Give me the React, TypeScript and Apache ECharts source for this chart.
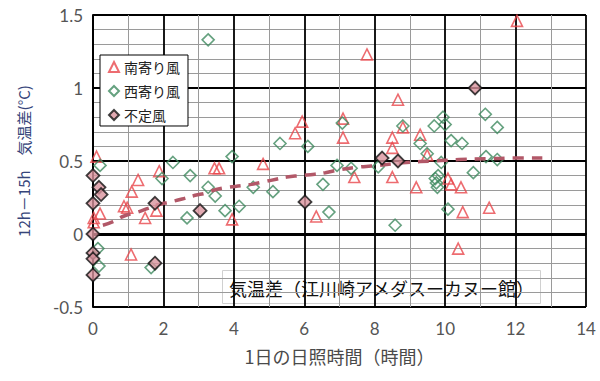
import React, { useEffect, useRef } from "react";
import * as echarts from "echarts";

const southWind: number[][] = [
  [0.1, 0.53], [0.2, 0.14], [0.02, 0.11], [0.02, 0.08],
  [0.88, 0.19], [0.97, 0.18], [1.1, 0.29], [1.28, 0.37], [1.48, 0.11], [1.08, -0.14],
  [1.88, 0.43], [1.8, 0.16], [3.45, 0.45], [3.58, 0.45], [3.95, 0.1], [4.83, 0.48],
  [5.74, 0.69], [5.94, 0.77], [6.34, 0.12], [7.1, 0.79], [7.1, 0.66], [7.42, 0.39],
  [7.78, 1.23], [8.5, 0.66], [8.5, 0.59], [8.5, 0.39], [8.66, 0.92], [8.8, 0.73],
  [9.18, 0.32], [9.29, 0.68], [9.49, 0.54], [10.08, 0.38], [10.17, 0.34], [10.45, 0.32],
  [10.5, 0.15], [10.37, -0.1], [11.25, 0.18], [12.04, 1.46],
];

const westWind: number[][] = [
  [0.2, 0.47], [0.14, -0.1], [0.17, -0.22], [1.65, -0.23], [1.96, 0.38], [2.27, 0.49],
  [2.67, 0.11], [2.76, 0.4], [3.27, 0.32], [3.27, 1.33], [3.47, 0.26], [3.75, 0.16],
  [3.95, 0.53], [4.15, 0.19], [4.55, 0.32], [5.11, 0.29], [5.31, 0.62], [6.1, 0.6],
  [6.53, 0.34], [6.7, 0.15], [6.93, 0.47], [7.08, 0.76], [7.33, 0.45], [8.1, 0.46],
  [8.58, 0.06], [8.8, 0.74], [9.29, 0.62], [9.49, 0.55], [9.69, 0.74], [9.72, 0.38],
  [9.8, 0.4], [9.75, 0.35], [9.78, 0.32], [9.89, 0.49], [9.94, 0.8], [10.0, 0.75],
  [10.08, 0.17], [10.17, 0.64], [10.48, 0.62], [10.8, 0.42], [11.14, 0.82], [11.48, 0.73],
  [11.16, 0.53], [11.48, 0.51],
];

const variableWind: number[][] = [
  [0, 0.4], [0.17, 0.32], [0.23, 0.27], [0, 0.21], [0, 0.0], [0, -0.13], [0, -0.17],
  [0, -0.28], [1.76, 0.21], [1.76, -0.2], [3.04, 0.16], [6.02, 0.22], [8.21, 0.52],
  [8.66, 0.5], [10.85, 1.0],
];

const trendLine: number[][] = [
  [0.28, 0.06], [0.57, 0.085], [0.9, 0.125], [1.2, 0.145], [1.56, 0.175], [1.85, 0.2],
  [2.2, 0.22], [2.53, 0.24], [2.9, 0.265], [3.2, 0.28], [3.5, 0.305], [3.84, 0.32],
  [4.2, 0.33], [4.5, 0.34], [4.9, 0.36], [5.2, 0.375], [5.5, 0.39], [5.9, 0.4],
  [6.3, 0.41], [6.6, 0.42], [7.0, 0.44], [7.6, 0.46], [7.9, 0.465], [8.9, 0.49],
  [9.7, 0.5], [10.4, 0.51], [11.2, 0.515], [12.0, 0.52], [12.76, 0.52],
];

const seriesNames = ["南寄り風", "西寄り風", "不定風"];
const xTitle = "1日の日照時間（時間）";
const yTitle = "12h－15h　気温差(°C)";
const boxTitle = "気温差（江川崎アメダスーカヌー館）";

export default function App() {
  const ref = useRef<HTMLDivElement>(null);
  useEffect(() => {
    const chart = echarts.init(ref.current!, null, { renderer: "svg" });
    const latin = "Lato, 'Noto Sans CJK JP', sans-serif";
    const cjk = "'Noto Sans CJK JP', sans-serif";
    chart.setOption({
      animation: false,
      backgroundColor: "#ffffff",
      grid: { left: 93, right: 14, top: 15, bottom: 74, containLabel: false },
      legend: {
        data: seriesNames,
        orient: "vertical",
        left: 100,
        top: 55,
        backgroundColor: "#ffffff",
        borderColor: "#000000",
        borderWidth: 1,
        borderRadius: 0,
        padding: [5, 8, 4, 8],
        itemWidth: 10,
        itemHeight: 10,
        itemGap: 10,
        textStyle: { fontFamily: cjk, fontSize: 14, color: "#222222" },
      },
      xAxis: {
        type: "value",
        min: 0,
        max: 14,
        interval: 2,
        name: xTitle,
        nameLocation: "middle",
        nameGap: 40,
        nameTextStyle: { fontFamily: cjk, fontSize: 18, color: "#4a4a4a" },
        axisLine: { show: true, lineStyle: { color: "#000", width: 2 } },
        axisTick: { show: false },
        axisLabel: { fontFamily: latin, fontSize: 17, color: "#555555", margin: 13 },
        splitLine: { show: true, lineStyle: { color: "#000", width: 1.8 } },
        minorTick: { show: false, splitNumber: 2 },
        minorSplitLine: { show: true, lineStyle: { color: "#9a9a9a", width: 1 } },
      },
      yAxis: {
        type: "value",
        min: -0.5,
        max: 1.5,
        interval: 0.5,
        name: yTitle,
        nameLocation: "middle",
        nameGap: 62,
        nameRotate: 90,
        nameTextStyle: { fontFamily: cjk, fontSize: 15, color: "#36457a" },
        axisLine: { show: true, lineStyle: { color: "#000", width: 2 } },
        axisTick: { show: false },
        axisLabel: { fontFamily: latin, fontSize: 17, color: "#555555", margin: 10 },
        splitLine: { show: true, lineStyle: { color: "#000", width: 1.8 } },
        minorTick: { show: false, splitNumber: 5 },
        minorSplitLine: { show: true, lineStyle: { color: "#9a9a9a", width: 1 } },
      },
      series: [
        {
          name: seriesNames[0],
          type: "scatter",
          data: southWind,
          symbol: "triangle",
          symbolSize: 11,
          itemStyle: { color: "rgba(255,255,255,0)", borderColor: "#e8474c", borderWidth: 1.6 },
          z: 2,
        },
        {
          name: seriesNames[1],
          type: "scatter",
          data: westWind,
          symbol: "diamond",
          symbolSize: 12,
          itemStyle: { color: "rgba(255,255,255,0)", borderColor: "#3f8a5f", borderWidth: 1.6 },
          z: 3,
        },
        {
          name: "trend",
          type: "line",
          data: trendLine,
          smooth: true,
          showSymbol: false,
          symbol: "none",
          lineStyle: { color: "#b25868", width: 3.5, type: [11, 8] },
          z: 4,
          markLine: {
            silent: true,
            symbol: ["none", "none"],
            label: { show: false },
            lineStyle: { color: "#000", width: 3, type: "solid" },
            data: [{ yAxis: 0 }],
            z: 1,
          },
        },
        {
          name: seriesNames[2],
          type: "scatter",
          data: variableWind,
          symbol: "diamond",
          symbolSize: 13,
          itemStyle: { color: "#d9939d", borderColor: "#111111", borderWidth: 1.8 },
          z: 5,
        },
      ],
      graphic: [
        {
          type: "group",
          left: 222,
          top: 270,
          z: 100,
          children: [
            {
              type: "rect",
              shape: { x: 0, y: 0, width: 318, height: 33 },
              style: { fill: "#ffffff", stroke: "#d0d0d0", lineWidth: 1 },
            },
            {
              type: "text",
              x: 159,
              y: 17,
              style: {
                text: boxTitle,
                fontFamily: cjk,
                fontSize: 18,
                fontWeight: "normal",
                fill: "#111111",
                align: "center",
                verticalAlign: "middle",
              },
            },
          ],
        },
      ],
    });
    return () => chart.dispose();
  }, []);
  return (
    <div
      ref={ref}
      style={{ position: "fixed", left: 0, top: 0, width: 600, height: 381 }}
    />
  );
}
